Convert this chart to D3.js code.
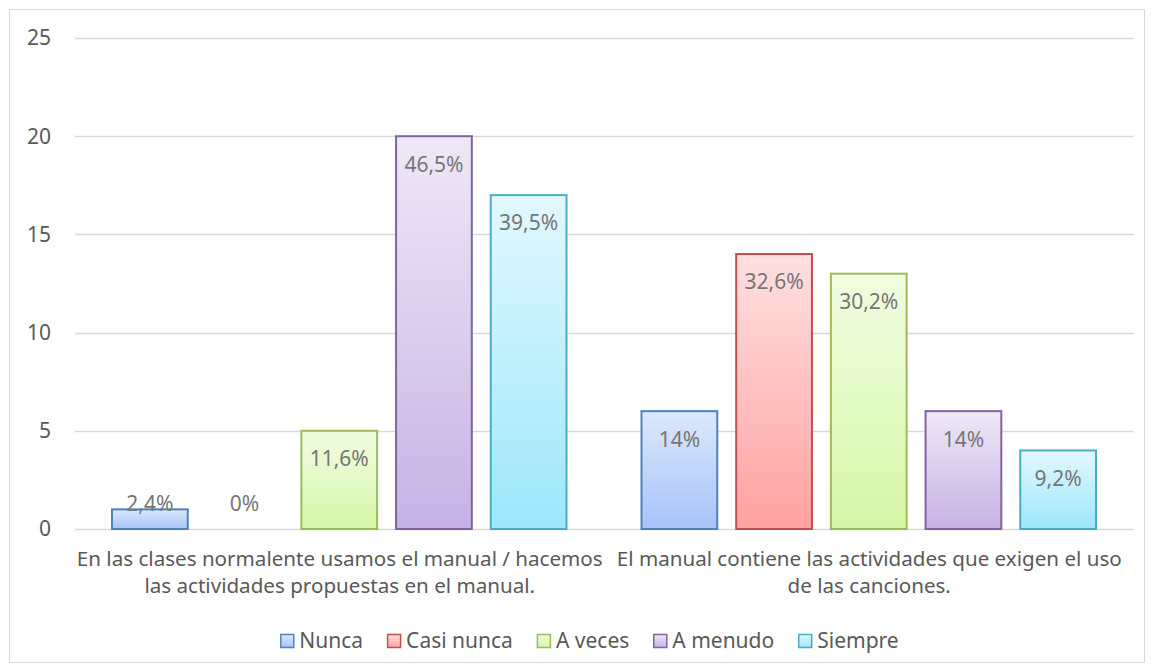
<!DOCTYPE html>
<html>
<head>
<meta charset="utf-8">
<script src="https://cdn.jsdelivr.net/npm/d3@7"></script>
<style>
  body { margin: 0; background: #fff; }
  svg { display: block; font-family: "Noto Sans", "Open Sans", sans-serif; }
</style>
</head>
<body>
<div id="chart"></div>
<script>
const categories = [
  ["En las clases normalente usamos el manual / hacemos", "las actividades propuestas en el manual."],
  ["El manual contiene las actividades que exigen el uso", "de las canciones."]
];
const seriesNames = ["Nunca", "Casi nunca", "A veces", "A menudo", "Siempre"];
const values = [
  [1, 0, 5, 20, 17],
  [6, 14, 13, 6, 4]
];
const pctLabels = [
  ["2,4%", "0%", "11,6%", "46,5%", "39,5%"],
  ["14%", "32,6%", "30,2%", "14%", "9,2%"]
];
const yTicks = [0, 5, 10, 15, 20, 25];

const strokeColors = ["#4f81bd", "#c0504d", "#9bbb59", "#8064a2", "#4bacc6"];
const topColors = ["#dde8fc", "#ffe0e0", "#f0fde2", "#efe8f7", "#e2f8fe"];
const bottomColors = ["#a6c3f8", "#ffa1a1", "#d6f7a6", "#c6b2e5", "#9ce7fb"];

const width = 1154, height = 671;
const plot = { left: 75, right: 1134, top: 38, bottom: 529 };
const fontSize = "21px";

const svg = d3.select("#chart").append("svg")
  .attr("width", width)
  .attr("height", height);

// gradients
const defs = svg.append("defs");
seriesNames.forEach((s, i) => {
  const g = defs.append("linearGradient")
    .attr("id", "grad" + i)
    .attr("x1", 0).attr("y1", 0).attr("x2", 0).attr("y2", 1);
  g.append("stop").attr("offset", "0%").attr("stop-color", topColors[i]);
  g.append("stop").attr("offset", "100%").attr("stop-color", bottomColors[i]);
});

// chart border
svg.append("rect")
  .attr("x", 9.5).attr("y", 9.5)
  .attr("width", 1135).attr("height", 653)
  .attr("fill", "#fff")
  .attr("stroke", "#d9d9d9");

const y = d3.scaleLinear().domain([0, 25]).range([plot.bottom, plot.top]);
const x0 = d3.scaleBand().domain(d3.range(categories.length))
  .range([plot.left, plot.right]).padding(0);
const x1 = d3.scaleBand().domain(d3.range(seriesNames.length))
  .range([37, x0.bandwidth() - 38]).paddingInner(0.2).paddingOuter(0);

// grid
svg.append("g")
  .selectAll("line")
  .data(yTicks)
  .join("line")
  .attr("x1", plot.left).attr("x2", plot.right)
  .attr("y1", d => Math.round(y(d)) + 0.5)
  .attr("y2", d => Math.round(y(d)) + 0.5)
  .attr("stroke", "#d9d9d9")
  .attr("stroke-width", 1.3);

// y tick labels
svg.append("g")
  .selectAll("text")
  .data(yTicks)
  .join("text")
  .attr("x", 51)
  .attr("y", d => y(d))
  .attr("dy", "0.35em")
  .attr("text-anchor", "end")
  .attr("fill", "#595959")
  .style("font-size", fontSize)
  .text(d => d);

// bars
const groups = svg.append("g")
  .selectAll("g")
  .data(values)
  .join("g")
  .attr("transform", (d, i) => `translate(${x0(i)},0)`);

groups.selectAll("rect")
  .data(d => d)
  .join("rect")
  .attr("x", (d, i) => x1(i))
  .attr("y", d => y(d))
  .attr("width", x1.bandwidth())
  .attr("height", d => y(0) - y(d))
  .attr("fill", (d, i) => `url(#grad${i})`)
  .attr("stroke", (d, i) => strokeColors[i])
  .attr("stroke-width", 2)
  .attr("display", d => d > 0 ? null : "none");

// value labels
groups.each(function(vals, gi) {
  d3.select(this).selectAll("text")
    .data(vals)
    .join("text")
    .attr("x", (d, i) => x1(i) + x1.bandwidth() / 2)
    .attr("y", d => Math.min(y(d) + 28, y(0) - 25))
    .attr("dy", "0.35em")
    .attr("text-anchor", "middle")
    .attr("fill", "#767676")
    .style("font-size", fontSize)
    .text((d, i) => pctLabels[gi][i]);
});

// category labels
svg.append("g")
  .selectAll("text")
  .data(categories)
  .join("text")
  .attr("x", (d, i) => x0(i) + x0.bandwidth() / 2)
  .attr("y", 559)
  .attr("text-anchor", "middle")
  .attr("fill", "#595959")
  .style("font-size", "20.6px")
  .each(function(lines) {
    d3.select(this).selectAll("tspan")
      .data(lines)
      .join("tspan")
      .attr("x", d3.select(this).attr("x"))
      .attr("dy", (d, i) => i === 0 ? "0.35em" : "27px")
      .text(d => d);
  });

// legend
const legend = svg.append("g");
const items = legend.selectAll("g")
  .data(seriesNames)
  .join("g");

items.append("rect")
  .attr("x", 0.5).attr("y", -6.5)
  .attr("width", 13).attr("height", 13)
  .attr("fill", (d, i) => `url(#grad${i})`)
  .attr("stroke", (d, i) => strokeColors[i])
  .attr("stroke-width", 1.5);

items.append("text")
  .attr("x", 19)
  .attr("dy", "0.35em")
  .attr("fill", "#595959")
  .style("font-size", fontSize)
  .text(d => d);

const gap = 24;
let lx = 0;
const offsets = [];
items.each(function() {
  offsets.push(lx);
  lx += 19 + this.querySelector("text").getComputedTextLength() + gap;
});
const legendWidth = lx - gap;
const legendStart = 589.5 - legendWidth / 2;
items.attr("transform", (d, i) => `translate(${legendStart + offsets[i]},641)`);
</script>
</body>
</html>
